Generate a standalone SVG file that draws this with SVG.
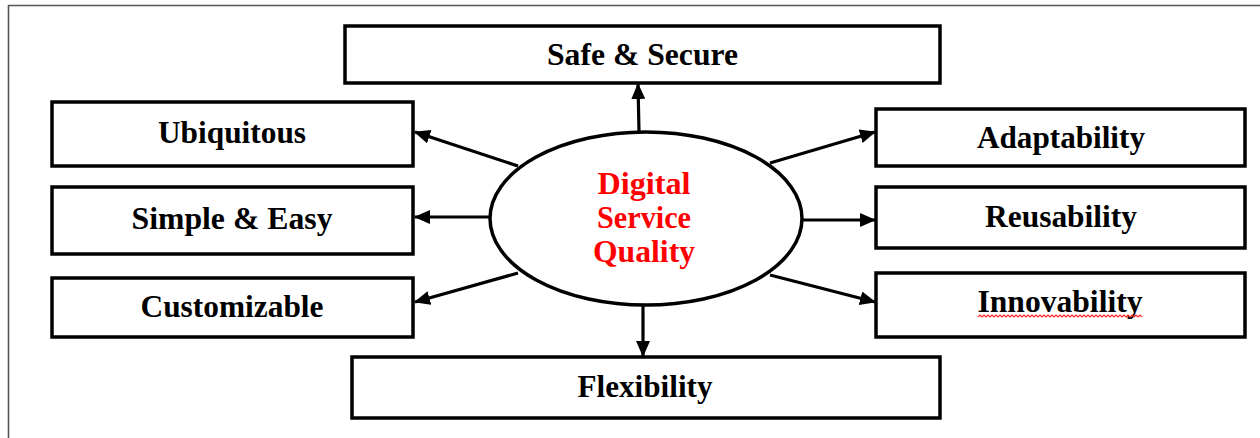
<svg xmlns="http://www.w3.org/2000/svg" width="1260" height="438" viewBox="0 0 1260 438">
<defs>
<style>
.box{fill:#fff;stroke:#000;stroke-width:3.5}
.lbl{font-family:"Liberation Serif","Times New Roman",serif;font-weight:bold;font-size:30.5px;fill:#000;text-anchor:middle}
.red{fill:#ff0000}
.conn{stroke:#000;stroke-width:3.2;fill:none;marker-end:url(#ah)}
</style>
<marker id="ah" markerUnits="userSpaceOnUse" markerWidth="16" markerHeight="14" viewBox="0 0 16 14" refX="15" refY="7" orient="auto">
<path d="M0,0 L16,7 L0,14 z" fill="#000"/>
</marker>
</defs>
<rect width="1260" height="438" fill="#fff"/>
<path d="M8.5,438 V5.5 H1260" fill="none" stroke="#555" stroke-width="1.6"/>

<g id="connectors">
<line class="conn" x1="639" y1="132" x2="638" y2="84"/>
<line class="conn" x1="643" y1="305" x2="643" y2="356"/>
<line class="conn" x1="518" y1="166" x2="415" y2="132"/>
<line class="conn" x1="490" y1="217" x2="415" y2="217"/>
<line class="conn" x1="518" y1="273" x2="415" y2="302"/>
<line class="conn" x1="770" y1="163" x2="875" y2="132"/>
<line class="conn" x1="802" y1="220" x2="875" y2="220"/>
<line class="conn" x1="770" y1="275" x2="875" y2="302"/>
</g>

<g id="center">
<ellipse cx="646" cy="218.5" rx="156" ry="86.5" fill="#fff" stroke="#000" stroke-width="3.5"/>
<text class="lbl red" x="644" y="194" textLength="93" lengthAdjust="spacingAndGlyphs">Digital</text>
<text class="lbl red" x="644" y="228" textLength="94" lengthAdjust="spacingAndGlyphs">Service</text>
<text class="lbl red" x="644" y="262" textLength="102" lengthAdjust="spacingAndGlyphs">Quality</text>
</g>

<g id="safe">
<rect class="box" x="345" y="26" width="595" height="57"/>
<text class="lbl" x="642.5" y="65" textLength="191" lengthAdjust="spacingAndGlyphs">Safe &amp; Secure</text>
</g>
<g id="ubiquitous">
<rect class="box" x="52" y="102" width="361" height="64"/>
<text class="lbl" x="232" y="143" textLength="148" lengthAdjust="spacingAndGlyphs">Ubiquitous</text>
</g>
<g id="simple">
<rect class="box" x="52" y="187" width="361" height="67"/>
<text class="lbl" x="232" y="229" textLength="201" lengthAdjust="spacingAndGlyphs">Simple &amp; Easy</text>
</g>
<g id="customizable">
<rect class="box" x="52" y="278" width="361" height="59"/>
<text class="lbl" x="232" y="317" textLength="183" lengthAdjust="spacingAndGlyphs">Customizable</text>
</g>
<g id="flexibility">
<rect class="box" x="352" y="357" width="588" height="61"/>
<text class="lbl" x="645" y="397" textLength="135" lengthAdjust="spacingAndGlyphs">Flexibility</text>
</g>
<g id="adaptability">
<rect class="box" x="876" y="109" width="369" height="57"/>
<text class="lbl" x="1061" y="148" textLength="168" lengthAdjust="spacingAndGlyphs">Adaptability</text>
</g>
<g id="reusability">
<rect class="box" x="876" y="187" width="369" height="61"/>
<text class="lbl" x="1061" y="227" textLength="152" lengthAdjust="spacingAndGlyphs">Reusability</text>
</g>
<g id="innovability">
<rect class="box" x="876" y="273" width="369" height="64"/>
<text class="lbl" x="1060" y="312" textLength="165" lengthAdjust="spacingAndGlyphs">Innovability</text>
<path d="M978,317 l2,-2 l2,2 l2,-2 l2,2 l2,-2 l2,2 l2,-2 l2,2 l2,-2 l2,2 l2,-2 l2,2 l2,-2 l2,2 l2,-2 l2,2 l2,-2 l2,2 l2,-2 l2,2 l2,-2 l2,2 l2,-2 l2,2 l2,-2 l2,2 l2,-2 l2,2 l2,-2 l2,2 l2,-2 l2,2 l2,-2 l2,2 l2,-2 l2,2 l2,-2 l2,2 l2,-2 l2,2 l2,-2 l2,2 l2,-2 l2,2 l2,-2 l2,2 l2,-2 l2,2 l2,-2 l2,2 l2,-2 l2,2 l2,-2 l2,2 l2,-2 l2,2 l2,-2 l2,2 l2,-2 l2,2 l2,-2 l2,2 l2,-2 l2,2 l2,-2 l2,2 l2,-2 l2,2 l2,-2 l2,2 l2,-2 l2,2 l2,-2 l2,2 l2,-2 l2,2 l2,-2 l2,2 l2,-2 l2,2 l2,-2 l2,2" fill="none" stroke="#ff2020" stroke-width="1.1"/>
</g>
</svg>
